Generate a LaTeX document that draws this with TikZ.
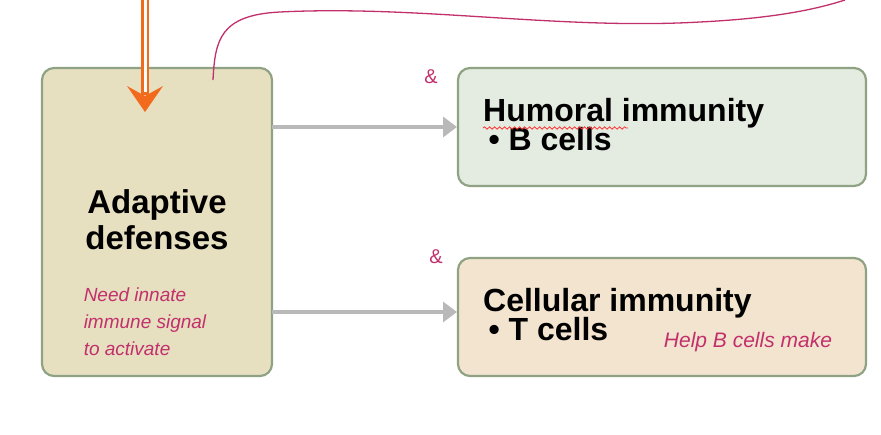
\documentclass[tikz,border=0pt]{standalone}
\usepackage{fontspec}
\setmainfont{Liberation Sans}
\usetikzlibrary{arrows.meta,decorations.pathmorphing}
\definecolor{boxedge}{HTML}{8FA283}
\definecolor{leftfill}{HTML}{E6DFC0}
\definecolor{topfill}{HTML}{E4EBE0}
\definecolor{botfill}{HTML}{F3E4D0}
\definecolor{ink}{HTML}{C2306C}
\definecolor{orng}{HTML}{F26A1B}
\tikzset{
  panel/.style={draw=boxedge,line width=2.2pt,rounded corners=12pt},
  conn/.style={draw=gray!55,line width=4pt,-{Triangle[length=14pt,width=20pt]}},
  hand/.style={text=ink,font=\fontsize{19}{27}\itshape\selectfont,align=left},
  head/.style={font=\fontsize{32}{32}\bfseries\selectfont,anchor=base west,inner sep=0pt}
}
\begin{document}
\begin{tikzpicture}[x=1pt,y=-1pt]
\useasboundingbox (0,0) rectangle (881,434);
\node[panel,fill=leftfill,minimum width=230pt,minimum height=308pt] (adapt) at (157,222) {};
\node[font=\fontsize{33}{36}\bfseries\selectfont,align=center] (adt) at (157,220) {Adaptive\\defenses};
\node[panel,fill=topfill,minimum width=408pt,minimum height=118pt] (hum) at (662,127) {};
\node[panel,fill=botfill,minimum width=408pt,minimum height=118pt] (cel) at (662,317) {};
\node[head] (humt) at (483,121) {Humoral immunity};
\node[head] (humb) at (483,150) {\,\textbullet\ B cells};
\node[head] (celt) at (483,311) {Cellular immunity};
\node[head] (celb) at (483,340) {\,\textbullet\ T cells};
\coordinate (a1) at (272,127);
\coordinate (b1) at (457,127);
\coordinate (a2) at (272,312);
\coordinate (b2) at (457,312);
\draw[conn] (a1) -- (b1);
\draw[conn] (a2) -- (b2);
% orange arrow
\coordinate (o1) at (145,0);
\coordinate (o2) at (145,112);
\draw[orng,line width=8pt] (o1) -- (145,95);
\draw[white,line width=3pt] (o1) -- (145,92);
\fill[orng] (127,86) -- (o2) -- (163,86) -- (145,96) -- cycle;
% red squiggle
\draw[red!80,line width=0.8pt,decorate,decoration={snake,amplitude=1.2pt,segment length=5pt}] (483,128) -- (628,128);
% handwriting
\coordinate (c0) at (213,80);
\draw[ink,line width=1.3pt] (c0) .. controls (215,40) and (220,15) .. (280,12) .. controls (420,5) and (560,30) .. (700,22) .. controls (780,18) and (820,8) .. (845,0);
\node[hand] (n1) at (145,322) {Need innate\\immune signal\\to activate};
\node[hand,font=\fontsize{21}{24}\itshape\selectfont] (n2) at (748,342) {Help B cells make};
\node[text=ink,font=\fontsize{20}{20}\selectfont] (s1) at (431,77) {\&};
\node[text=ink,font=\fontsize{20}{20}\selectfont] (s2) at (436,257) {\&};
\end{tikzpicture}
\end{document}
